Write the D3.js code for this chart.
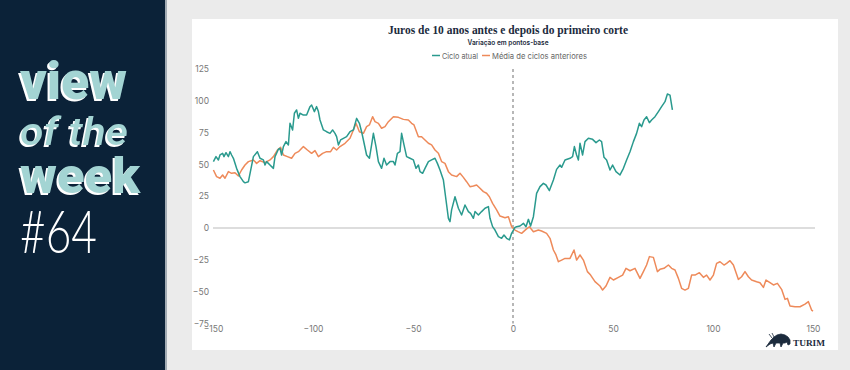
<!DOCTYPE html>
<html>
<head>
<meta charset="utf-8">
<script src="https://cdn.jsdelivr.net/npm/d3@7"></script>
<style>
  body { margin: 0; background: #ebebeb; }
  svg { display: block; }
</style>
</head>
<body>
<div id="chart"></div>
<script>
// axis ticks
const xTicks = [-150, -100, -50, 0, 50, 100, 150];
const yTicks = [-75, -50, -25, 0, 25, 50, 75, 100, 125];

// "Ciclo atual" - days from first cut, bps change
const atualDays = [-149.8,-148.5,-147.3,-146.5,-145.2,-144.5,-143.5,-142.3,-141.5,-140.7,-139.8,-138.2,-136.5,-134.8,-134,-132.3,-129.8,-127.8,-126.5,-124.8,-124,-123.2,-121.5,-119.8,-119,-117.3,-116.5,-115.7,-114.8,-113.5,-112.3,-111.5,-110.2,-109.3,-108.2,-107.3,-106.5,-104.8,-103.2,-101.5,-100.7,-99.3,-98.2,-97.3,-96.5,-94.8,-93.2,-91.5,-90.2,-89,-88.2,-87.3,-86.2,-84.8,-83.2,-81.5,-79.8,-78.2,-76.8,-75.7,-74.8,-73.2,-71.8,-70.7,-69.8,-68.5,-67.3,-65.7,-64.5,-63.2,-61.5,-59.8,-59,-57.8,-56.5,-55.7,-54.5,-53.2,-51.5,-49.8,-48.5,-47.3,-46.5,-45.2,-44,-42.3,-40.7,-39,-37.8,-36.5,-34.8,-33.5,-32.3,-31.5,-30.7,-29,-27.3,-25.7,-24,-22.3,-21.2,-19.8,-19,-17.3,-15.7,-14,-12.3,-11.5,-10.2,-9,-7.3,-5.7,-4.5,-3.2,-1.8,-0.7,1,1.8,3.5,5.2,6.5,7.7,8.8,10.2,11.8,13.5,15.2,16.5,18.2,20.2,21.8,23.5,24.3,26,28.5,29.8,30.7,31.8,32.7,33.5,34.8,36,37.7,39.8,41.5,43.2,44.3,45.5,46.8,48.5,49.8,51.5,53.5,55.2,56.8,58.5,60.2,61.8,63.2,64.3,65.5,66.8,68.2,69.3,71,72.7,74.3,76,77.2,78.5,79.7];
const atualVals = [52.2,56.1,53.5,57.4,58.7,56.1,59.2,56.1,60.0,57.4,54.8,46.9,40.4,36.4,35.5,36.4,56.1,60.0,54.8,53.5,49.5,52.2,49.5,46.9,56.1,61.9,62.6,57.4,64.0,67.9,65.3,82.3,77.1,90.2,92.8,86.2,90.2,88.8,88.8,95.4,96.7,91.5,95.4,91.5,84.9,77.1,75.7,74.4,77.1,74.4,71.8,65.3,69.2,70.5,71.8,75.7,77.1,86.2,82.3,75.7,69.2,57.4,54.8,65.3,74.4,64.0,52.2,46.9,54.8,49.5,52.2,52.2,49.5,58.7,60.0,74.4,65.3,56.1,54.8,53.5,46.9,49.5,44.3,43.0,46.9,52.2,53.5,54.8,50.8,45.6,37.7,22.0,7.6,5.0,14.2,24.6,15.5,10.2,18.1,12.9,11.5,7.6,12.9,10.2,12.9,15.5,16.8,7.6,1.1,-1.6,-6.8,-8.1,-5.5,-8.1,-9.4,-4.2,0.5,1.0,1.6,3.7,1.0,6.8,1.6,8.9,27.2,32.5,35.1,33.8,29.4,37.7,46.1,49.5,47.7,53.5,54.8,56.1,64.0,57.4,53.5,66.6,57.4,67.9,70.5,69.7,67.1,69.2,67.9,55.6,53.5,45.6,49.5,44.3,41.7,46.9,53.5,60.0,67.9,74.4,82.3,79.7,84.9,87.5,82.8,84.9,87.5,91.5,95.4,99.3,105.3,104.5,92.8];

// "Média de ciclos anteriores"
const mediaDays = [-149.8,-148.2,-146.5,-145.2,-144,-142.3,-140.7,-139,-137.3,-135.7,-134,-132.3,-129.8,-128.2,-126.5,-124,-121.5,-119.8,-117.8,-116.2,-114.8,-112.8,-110.7,-109,-107.3,-104.8,-102.8,-100.7,-99,-97.3,-95.2,-93.2,-91.2,-89.8,-88.2,-86.5,-84,-81.5,-79.8,-78.5,-76.8,-74.8,-73.2,-71.8,-70.2,-69,-67.3,-65.7,-64,-62.3,-59.8,-57.3,-54.8,-52.3,-50.7,-49.5,-47.3,-45.7,-44,-42.3,-40.7,-39,-37.3,-35.7,-34,-32.3,-30.7,-28.2,-26.5,-24.8,-23.2,-21.5,-19.8,-18.2,-16.5,-14.8,-13.2,-11.8,-10.2,-8.2,-6.5,-4,-2.3,-0.7,1,2.5,4.3,6.5,8.2,10.2,12.7,14.3,16.8,18.5,20.2,21.5,22.7,24.3,26,28.5,30.5,31.8,33.5,35.2,37.2,38.8,41,43.5,44.8,46.5,48.5,50.2,52.7,54.8,56.5,58.5,61,63.5,65.2,66.8,68.2,70.2,72.2,73.5,75.5,77.7,79.3,81,82.7,84.3,86,87.7,89.3,91,93.2,95.2,96.8,98.5,100.2,101.8,103.5,105.5,106.8,108.5,110.2,112.7,114.3,116,117.7,119.3,121.8,123.5,125.2,126.5,128.5,130.2,132.2,134.3,136,137.2,138.5,141,143.5,146,147.7,149.3,150];
const mediaVals = [45.6,40.4,39.1,41.7,39.1,44.3,43.0,43.5,40.9,45.6,49.5,52.2,53.5,50.8,52.9,51.4,53.5,56.1,61.3,63.4,57.4,56.1,54.8,58.7,60.0,64.0,61.3,58.7,60.8,56.1,58.7,60.0,60.0,63.4,61.3,64.0,66.6,70.5,77.1,82.3,75.7,74.4,79.7,81.0,87.5,83.6,82.3,78.4,79.7,83.6,87.5,87.0,85.4,84.9,82.3,81.0,71.8,71.8,69.2,66.6,65.3,61.3,58.7,52.2,50.8,44.3,41.7,40.4,43.0,39.8,36.4,32.5,33.0,33.8,31.2,28.6,27.3,24.6,19.4,14.2,9.4,8.1,8.9,1.1,-1.6,-2.9,-4.2,-1.1,1.0,-2.9,-1.6,-2.4,-4.2,-8.1,-17.3,-21.2,-26.5,-25.2,-23.9,-23.9,-17.3,-25.2,-21.2,-25.2,-34.3,-37.0,-42.2,-45.6,-48.8,-45.6,-38.8,-40.9,-38.8,-37.0,-31.7,-33.6,-31.7,-39.6,-34.3,-29.1,-22.5,-23.1,-34.3,-32.5,-31.7,-29.1,-31.7,-33.0,-39.6,-47.4,-48.8,-47.4,-37.0,-37.0,-35.1,-38.8,-37.0,-40.9,-37.0,-27.8,-26.5,-29.1,-27.8,-25.7,-29.1,-40.4,-38.3,-34.3,-38.3,-40.9,-42.2,-43.0,-46.7,-40.9,-43.0,-44.8,-43.5,-48.2,-56.1,-55.3,-61.3,-61.9,-61.9,-59.8,-57.9,-64.5,-65.3];

const seriesNames = ["Ciclo atual", "Média de ciclos anteriores"];
const seriesColors = ["#2a9a8e", "#ee8a5a"];

const W = 850, H = 370;
const svg = d3.select("#chart").append("svg")
  .attr("width", W).attr("height", H);

// white offset edge behind the badge words
const flt = svg.append("defs").append("filter").attr("id", "edge")
  .attr("x", "-10%").attr("y", "-10%").attr("width", "120%").attr("height", "130%");
flt.append("feOffset").attr("in", "SourceAlpha").attr("dx", -1.6).attr("dy", 1.6).attr("result", "off");
flt.append("feFlood").attr("flood-color", "#ffffff").attr("result", "white");
flt.append("feComposite").attr("in", "white").attr("in2", "off").attr("operator", "in").attr("result", "sh");
const fm = flt.append("feMerge");
fm.append("feMergeNode").attr("in", "sh");
fm.append("feMergeNode").attr("in", "SourceGraphic");

// side panel + card
svg.append("rect").attr("width", W).attr("height", H).attr("fill", "#ebebeb");
svg.append("rect").attr("width", 165).attr("height", H).attr("fill", "#0b2238");
svg.append("rect").attr("x", 165).attr("width", 2).attr("height", H).attr("fill", "#5a6b7c").attr("opacity", 0.5);
svg.append("rect").attr("x", 192).attr("y", 19).attr("width", 646).attr("height", 331).attr("fill", "#fff");

// "view of the week #64"
const side = svg.append("g");
function badge(txt, x, y, size, len, italic) {
  side.append("text")
    .attr("x", x).attr("y", y)
    .attr("font-family", "Roboto, sans-serif")
    .attr("font-size", size)
    .attr("font-weight", italic ? 500 : 900)
    .attr("font-style", italic ? "italic" : "normal")
    .attr("textLength", len).attr("lengthAdjust", "spacingAndGlyphs")
    .attr("fill", "#a3d4d3")
    .attr("filter", "url(#edge)")
    .text(txt);
}
badge("view", 20, 99, 51, 107, false);
badge("of the", 20, 145, 38, 108, true);
badge("week", 20, 193, 50, 120, false);
side.append("text")
  .attr("x", 20).attr("y", 253)
  .attr("font-family", "Lato, sans-serif")
  .attr("font-weight", 300).attr("font-size", 60)
  .attr("textLength", 77).attr("lengthAdjust", "spacingAndGlyphs")
  .attr("fill", "#ffffff").text("#64");

// scales
const x = d3.scaleLinear().domain([-150, 150]).range([213, 813]);
const y = d3.scaleLinear().domain([-75, 125]).range([323.4, 69]);

const tickFont = "Inter, 'Open Sans', sans-serif";

// title block
svg.append("text").attr("x", 508).attr("y", 34)
  .attr("text-anchor", "middle")
  .attr("font-family", "'Liberation Serif', serif").attr("font-weight", 700)
  .attr("font-size", 12.5).attr("fill", "#1c2b3d")
  .attr("textLength", 240).attr("lengthAdjust", "spacingAndGlyphs")
  .text("Juros de 10 anos antes e depois do primeiro corte");
svg.append("text").attr("x", 508).attr("y", 45)
  .attr("text-anchor", "middle")
  .attr("font-family", tickFont).attr("font-weight", 600)
  .attr("font-size", 7).attr("fill", "#1c2b3d")
  .attr("textLength", 81).attr("lengthAdjust", "spacingAndGlyphs")
  .text("Variação em pontos-base");

// legend
const legendX = [432, 482];
const legendLen = [36, 95];
seriesNames.forEach((n, i) => {
  svg.append("line")
    .attr("x1", legendX[i]).attr("x2", legendX[i] + 8)
    .attr("y1", 55.5).attr("y2", 55.5)
    .attr("stroke", seriesColors[i]).attr("stroke-width", 1.5);
  svg.append("text")
    .attr("x", legendX[i] + 10).attr("y", 58.5)
    .attr("font-family", tickFont).attr("font-size", 8)
    .attr("fill", "#666")
    .attr("textLength", legendLen[i]).attr("lengthAdjust", "spacingAndGlyphs")
    .text(n);
});

// y axis labels (no line)
const yAxis = d3.axisLeft(y).tickValues(yTicks).tickSize(0).tickPadding(0);
const gy = svg.append("g").attr("transform", "translate(209,0)").call(yAxis);
gy.select(".domain").remove();
gy.selectAll("text").attr("font-family", tickFont).attr("font-size", 8.5).attr("fill", "#777");

// x axis labels
const xAxis = d3.axisBottom(x).tickValues(xTicks).tickSize(0).tickPadding(0);
const gx = svg.append("g").attr("transform", "translate(0,326)").call(xAxis);
gx.select(".domain").remove();
gx.selectAll("text").attr("font-family", tickFont).attr("font-size", 8.5).attr("fill", "#777");

// zero line
svg.append("line")
  .attr("x1", x(-150)).attr("x2", x(151))
  .attr("y1", y(0)).attr("y2", y(0))
  .attr("stroke", "#bbb").attr("stroke-width", 1);

// first cut marker
svg.append("line")
  .attr("x1", x(0)).attr("x2", x(0))
  .attr("y1", y(125)).attr("y2", y(-75))
  .attr("stroke", "#888").attr("stroke-width", 1.2)
  .attr("stroke-dasharray", "3,3");

// lines
const line = d3.line().x(d => x(d[0])).y(d => y(d[1]));
const mediaData = mediaDays.map((d, i) => [d, mediaVals[i]]);
const atualData = atualDays.map((d, i) => [d, atualVals[i]]);
svg.append("path").datum(mediaData).attr("d", line)
  .attr("fill", "none").attr("stroke", seriesColors[1]).attr("stroke-width", 1.5)
  .attr("stroke-linejoin", "round");
svg.append("path").datum(atualData).attr("d", line)
  .attr("fill", "none").attr("stroke", seriesColors[0]).attr("stroke-width", 1.5)
  .attr("stroke-linejoin", "round");

// TURIM logo
const logo = svg.append("g").attr("transform", "translate(766,333)");
logo.append("path")
  .attr("d", "M0,14 L5,7 L8,4 L11,2 L15,1 L19,2 L22,4 L24,7 L24,11 L22,12 L21,9 L19,10 L17,10 L15,14 L14,10 L10,10 L8,14 L7,10 L4,11 Z M6,5 L3,1 M8,4 L6,0")
  .attr("fill", "#1c2b3d").attr("stroke", "#1c2b3d").attr("stroke-width", 0.8);
logo.append("text")
  .attr("x", 27).attr("y", 13)
  .attr("font-family", "'Liberation Serif', serif").attr("font-weight", 700)
  .attr("font-size", 9).attr("fill", "#1c2b3d")
  .attr("textLength", 32).attr("lengthAdjust", "spacingAndGlyphs")
  .text("TURIM");
</script>
</body>
</html>
